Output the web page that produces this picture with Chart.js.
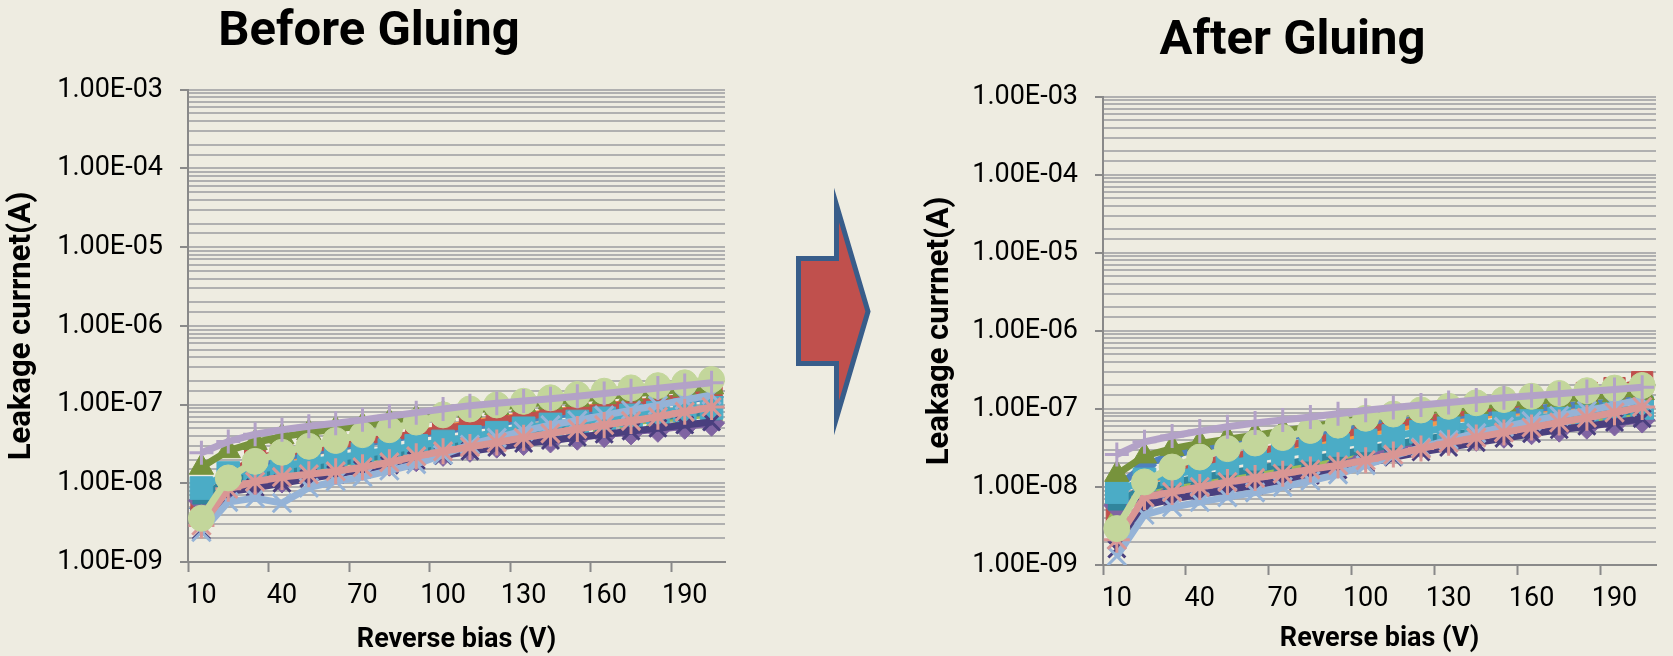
<!DOCTYPE html>
<html>
<head>
<meta charset="utf-8">
<script src="https://cdn.jsdelivr.net/npm/chart.js@4.4.1/dist/chart.umd.min.js"></script>
<style>
  html, body { margin:0; padding:0; background:#EEECE1; width:1673px; height:656px; overflow:hidden; }
  #wrapL { position:absolute; left:0; top:0; width:742px; height:656px; }
  #wrapR { position:absolute; left:918px; top:0; width:755px; height:656px; }
  #arrow { position:absolute; left:790px; top:185px; }
</style>
</head>
<body>
<div id="wrapL"><canvas id="before" width="742" height="656"></canvas></div>
<svg id="arrow" width="95" height="255" viewBox="0 0 95 255">
  <polygon points="8.5,73.5 46.5,73.5 46.5,20 78,126.5 46.5,233 46.5,178.5 8.5,178.5"
           fill="#C0504D" stroke="#385D8A" stroke-width="5" stroke-miterlimit="10" stroke-linejoin="miter"/>
</svg>
<div id="wrapR"><canvas id="after" width="755" height="656"></canvas></div>
<script>
// ---------- DATA ----------
const voltages = [10,20,30,40,50,60,70,80,90,100,110,120,130,140,150,160,170,180,190,200];
const xTickLabels = ['10','40','70','100','130','160','190'];
const yTickLabels = ['1.00E-09','1.00E-08','1.00E-07','1.00E-06','1.00E-05','1.00E-04','1.00E-03'];

// Before gluing
const before_blue = [4.8e-9,1.1e-8,1.7e-8,2.1e-8,2.45e-8,2.8e-8,3.2e-8,3.6e-8,4.1e-8,4.6e-8,5.2e-8,5.8e-8,6.5e-8,7.2e-8,7.9e-8,8.7e-8,9.5e-8,1.04e-7,1.14e-7,1.25e-7];
const before_red = [5.3e-9,1.3e-8,2.1e-8,2.4e-8,2.7e-8,3.0e-8,3.4e-8,3.8e-8,4.3e-8,4.9e-8,5.6e-8,6.3e-8,7.0e-8,7.8e-8,8.6e-8,9.4e-8,1.03e-7,1.13e-7,1.26e-7,1.45e-7];
const before_green = [4.9e-9,1.0e-8,1.2e-8,1.35e-8,1.55e-8,1.75e-8,2.0e-8,2.25e-8,2.55e-8,2.9e-8,3.3e-8,3.7e-8,4.1e-8,4.5e-8,5.0e-8,5.5e-8,6.0e-8,6.5e-8,7.0e-8,7.6e-8];
const before_purple = [6.0e-9,9.0e-9,1.0e-8,1.1e-8,1.25e-8,1.4e-8,1.6e-8,1.8e-8,2.05e-8,2.4e-8,2.7e-8,3.05e-8,3.3e-8,3.55e-8,3.85e-8,4.15e-8,4.5e-8,4.85e-8,5.3e-8,5.8e-8];
const before_aqua = [8.7e-9,1.35e-8,1.5e-8,1.65e-8,1.85e-8,2.1e-8,2.35e-8,2.65e-8,3.0e-8,3.4e-8,3.9e-8,4.4e-8,5.0e-8,5.6e-8,6.1e-8,6.7e-8,7.3e-8,7.9e-8,8.5e-8,9.1e-8];
const before_teal = [7.0e-9,1.05e-8,1.25e-8,1.4e-8,1.6e-8,1.8e-8,2.05e-8,2.3e-8,2.6e-8,3.0e-8,3.4e-8,3.85e-8,4.3e-8,4.8e-8,5.3e-8,5.8e-8,6.3e-8,6.9e-8,7.5e-8,8.2e-8];
const before_orange = [4.5e-9,1.1e-8,1.6e-8,2.0e-8,2.4e-8,2.8e-8,3.2e-8,3.7e-8,4.3e-8,5.0e-8,5.8e-8,6.5e-8,7.2e-8,8.0e-8,8.8e-8,9.6e-8,1.05e-7,1.13e-7,1.22e-7,1.32e-7];
const before_olive = [1.6e-8,2.6e-8,3.3e-8,3.9e-8,4.4e-8,4.9e-8,5.4e-8,6.0e-8,6.7e-8,7.6e-8,8.5e-8,9.2e-8,1.0e-7,1.08e-7,1.17e-7,1.26e-7,1.36e-7,1.46e-7,1.57e-7,1.68e-7];
const before_navy = [2.5e-9,7.8e-9,8.8e-9,1.0e-8,1.15e-8,1.3e-8,1.5e-8,1.7e-8,1.95e-8,2.25e-8,2.55e-8,2.85e-8,3.2e-8,3.5e-8,3.85e-8,4.2e-8,4.6e-8,5.0e-8,5.5e-8,6.0e-8];
const before_lightblue = [2.4e-9,5.8e-9,6.5e-9,5.6e-9,8.8e-9,1.06e-8,1.2e-8,1.45e-8,1.75e-8,2.3e-8,3.1e-8,3.8e-8,4.6e-8,5.5e-8,6.3e-8,7.3e-8,8.5e-8,9.8e-8,1.15e-7,1.33e-7];
const before_pink = [2.9e-9,8.5e-9,1.05e-8,1.2e-8,1.3e-8,1.42e-8,1.6e-8,1.85e-8,2.2e-8,2.55e-8,2.9e-8,3.3e-8,3.8e-8,4.3e-8,4.9e-8,5.5e-8,6.2e-8,7.0e-8,8.1e-8,9.3e-8];
const before_lightgreen = [3.6e-9,1.17e-8,1.9e-8,2.48e-8,2.95e-8,3.5e-8,4.15e-8,4.8e-8,6.0e-8,7.4e-8,8.8e-8,9.9e-8,1.1e-7,1.22e-7,1.34e-7,1.48e-7,1.63e-7,1.74e-7,1.89e-7,2.08e-7];
const before_lavender = [2.45e-8,3.4e-8,4.2e-8,4.8e-8,5.3e-8,5.8e-8,6.4e-8,7.1e-8,7.9e-8,8.8e-8,9.7e-8,1.04e-7,1.11e-7,1.19e-7,1.28e-7,1.38e-7,1.5e-7,1.62e-7,1.75e-7,1.89e-7];

// After gluing
const after_blue = [1.0e-8,1.9e-8,2.6e-8,3.0e-8,3.4e-8,3.8e-8,4.3e-8,4.8e-8,5.4e-8,6.1e-8,6.8e-8,7.4e-8,8.0e-8,8.7e-8,9.4e-8,1.0e-7,1.08e-7,1.16e-7,1.24e-7,1.33e-7];
const after_red = [4.8e-9,1.15e-8,1.6e-8,2.0e-8,2.4e-8,2.8e-8,3.3e-8,3.9e-8,4.6e-8,5.4e-8,6.3e-8,7.3e-8,8.4e-8,9.6e-8,1.09e-7,1.23e-7,1.39e-7,1.6e-7,1.85e-7,2.2e-7];
const after_green = [4.2e-9,8.5e-9,1.0e-8,1.15e-8,1.3e-8,1.48e-8,1.7e-8,1.95e-8,2.25e-8,2.6e-8,3.0e-8,3.4e-8,3.9e-8,4.4e-8,5.0e-8,5.6e-8,6.2e-8,6.9e-8,7.6e-8,8.4e-8];
const after_purple = [5.8e-9,7.5e-9,8.5e-9,9.5e-9,1.07e-8,1.2e-8,1.38e-8,1.6e-8,1.9e-8,2.4e-8,2.95e-8,3.4e-8,3.8e-8,4.2e-8,4.6e-8,5.1e-8,5.5e-8,6.0e-8,6.6e-8,7.2e-8];
const after_aqua = [8.6e-9,1.25e-8,1.45e-8,1.65e-8,2.0e-8,2.3e-8,2.65e-8,3.0e-8,3.45e-8,3.95e-8,4.5e-8,5.1e-8,5.7e-8,6.3e-8,6.9e-8,7.5e-8,8.1e-8,8.8e-8,9.5e-8,1.03e-7];
const after_teal = [6.5e-9,9.5e-9,1.15e-8,1.3e-8,1.5e-8,1.7e-8,1.95e-8,2.25e-8,2.6e-8,3.0e-8,3.5e-8,4.0e-8,4.6e-8,5.2e-8,5.8e-8,6.5e-8,7.2e-8,8.0e-8,8.8e-8,9.8e-8];
const after_orange = [3.5e-9,1.1e-8,1.55e-8,1.9e-8,2.25e-8,2.6e-8,3.0e-8,3.5e-8,4.1e-8,4.8e-8,5.6e-8,6.4e-8,7.2e-8,8.0e-8,8.8e-8,9.6e-8,1.05e-7,1.14e-7,1.24e-7,1.36e-7];
const after_olive = [1.45e-8,2.5e-8,3.1e-8,3.6e-8,4.1e-8,4.6e-8,5.2e-8,5.9e-8,6.7e-8,7.6e-8,8.5e-8,9.3e-8,1.0e-7,1.08e-7,1.16e-7,1.24e-7,1.33e-7,1.42e-7,1.52e-7,1.62e-7];
const after_navy = [1.6e-9,5.8e-9,7.0e-9,8.0e-9,9.2e-9,1.05e-8,1.2e-8,1.4e-8,1.65e-8,2.0e-8,2.4e-8,2.8e-8,3.2e-8,3.7e-8,4.2e-8,4.8e-8,5.4e-8,6.0e-8,6.7e-8,7.5e-8];
const after_lightblue = [1.3e-9,4.4e-9,5.5e-9,6.4e-9,7.4e-9,8.5e-9,1.0e-8,1.2e-8,1.45e-8,1.9e-8,2.5e-8,3.2e-8,4.0e-8,4.9e-8,5.9e-8,7.0e-8,8.2e-8,9.5e-8,1.12e-7,1.32e-7];
const after_pink = [2.1e-9,7.4e-9,8.6e-9,1.0e-8,1.16e-8,1.3e-8,1.48e-8,1.68e-8,1.9e-8,2.2e-8,2.6e-8,3.1e-8,3.7e-8,4.3e-8,5.0e-8,5.8e-8,6.7e-8,7.7e-8,9.0e-8,1.06e-7];
const after_lightgreen = [2.93e-9,1.16e-8,1.8e-8,2.42e-8,3.1e-8,3.66e-8,4.3e-8,5.3e-8,6.2e-8,7.6e-8,8.6e-8,9.7e-8,1.08e-7,1.2e-7,1.32e-7,1.45e-7,1.58e-7,1.71e-7,1.85e-7,2.0e-7];
const after_lavender = [2.6e-8,3.8e-8,4.5e-8,5.2e-8,5.9e-8,6.6e-8,7.2e-8,7.9e-8,8.7e-8,9.6e-8,1.04e-7,1.12e-7,1.21e-7,1.3e-7,1.39e-7,1.48e-7,1.57e-7,1.67e-7,1.78e-7,1.9e-7];

// ---------- STYLES (drawn bottom -> top) ----------
const seriesStyles = [
  { key:'orange',     color:'#F79646', point:'triangle', r:12 },
  { key:'blue',       color:'#4F81BD', point:'rectRot',  r:12 },
  { key:'red',        color:'#C0504D', point:'rect',     r:15 },
  { key:'green',      color:'#9BBB59', point:'triangle', r:13 },
  { key:'purple',     color:'#8064A2', point:'rectRot',  r:13 },
  { key:'teal',       color:'#31859C', point:'rect',     r:12 },
  { key:'aqua',       color:'#4BACC6', point:'rect',     r:16 },
  { key:'olive',      color:'#77933C', point:'triangle', r:14 },
  { key:'navy',       color:'#4A3F7E', point:'crossRot', r:12 },
  { key:'lightblue',  color:'#95B3D7', point:'crossRot', r:13 },
  { key:'pink',       color:'#D99694', point:'star',     r:13 },
  { key:'lightgreen', color:'#C3D69B', point:'circle',   r:13 },
  { key:'lavender',   color:'#B3A2C7', point:'cross',    r:12 }
];

const beforeSeries = { blue:before_blue, red:before_red, green:before_green, purple:before_purple, aqua:before_aqua,
  teal:before_teal, orange:before_orange, olive:before_olive, navy:before_navy, lightblue:before_lightblue,
  pink:before_pink, lightgreen:before_lightgreen, lavender:before_lavender };
const afterSeries = { blue:after_blue, red:after_red, green:after_green, purple:after_purple, aqua:after_aqua,
  teal:after_teal, orange:after_orange, olive:after_olive, navy:after_navy, lightblue:after_lightblue,
  pink:after_pink, lightgreen:after_lightgreen, lavender:after_lavender };

// ---------- CHART ----------
Chart.defaults.font.family = 'Roboto';
Chart.defaults.color = '#000';

const AXIS = '#898989';
const GRID = '#B0B0B0';
function isMajor(v) {
  const l = Math.log10(v);
  return Math.abs(l - Math.round(l)) < 1e-6;
}

function makeChart(id, title, series, lay) {
  const n = seriesStyles.length;
  const datasets = seriesStyles.map((st, idx) => {
    const lineOnly = st.point === 'cross' || st.point === 'crossRot' || st.point === 'star';
    return {
      label: st.key,
      data: series[st.key],
      borderColor: st.color,
      backgroundColor: st.color,
      borderWidth: 7,
      tension: 0,
      pointStyle: st.point,
      pointRadius: st.r,
      pointBackgroundColor: st.color,
      pointBorderColor: st.color,
      pointBorderWidth: lineOnly ? 3 : 1,
      order: n - idx
    };
  });

  return new Chart(document.getElementById(id), {
    type: 'line',
    data: { labels: voltages, datasets },
    options: {
      responsive: false,
      animation: false,
      events: [],
      layout: { padding: { left: 0, right: lay.padRight, top: 0, bottom: 0 } },
      plugins: {
        legend: { display: false },
        tooltip: { enabled: false },
        title: {
          display: true, text: title, color: '#000',
          font: { family: 'Roboto', size: 49, weight: 'bold' },
          padding: { top: lay.titleTop, bottom: lay.titleBottom }
        }
      },
      scales: {
        x: {
          type: 'category',
          offset: true,
          border: { display: true, color: AXIS, width: 2 },
          grid: {
            offset: true, drawOnChartArea: false, drawTicks: true,
            tickLength: 10, tickWidth: 2,
            tickColor: (c) => (c.index !== undefined && c.index % 3 === 0) ? AXIS : 'rgba(0,0,0,0)'
          },
          ticks: {
            autoSkip: false, maxRotation: 0, minRotation: 0, padding: lay.xTickPad,
            color: '#000', font: { family: 'Roboto', size: 27 },
            callback: (v, i) => (i % 3 === 0) ? xTickLabels[i / 3] : ''
          },
          title: {
            display: true, text: 'Reverse bias (V)', color: '#000',
            font: { family: 'Roboto', size: 27, weight: 'bold' },
            padding: { top: 0, bottom: lay.xTitleBottom }
          },
          afterFit: (s) => { s.height = lay.xHeight; }
        },
        y: {
          type: 'logarithmic',
          min: 1e-9, max: 1e-3,
          border: { display: true, color: AXIS, width: 2 },
          grid: {
            color: GRID, lineWidth: 2, drawTicks: true, tickLength: 8, tickWidth: 2,
            tickColor: (c) => (c.tick && isMajor(c.tick.value)) ? AXIS : 'rgba(0,0,0,0)'
          },
          ticks: {
            autoSkip: false, padding: 17, color: '#000',
            font: { family: 'Roboto', size: 27 },
            callback: (v) => isMajor(v) ? yTickLabels[Math.round(Math.log10(v)) + 9] : ''
          },
          title: {
            display: true, text: 'Leakage currnet(A)', color: '#000',
            font: { family: 'Roboto', size: 31, weight: 'bold' },
            padding: { top: lay.yTitleTop, bottom: 0 }
          },
          afterFit: (s) => { s.width = lay.yWidth; }
        }
      }
    }
  });
}

makeChart('before', 'Before Gluing', beforeSeries,
  { padRight: 4, titleTop: 3, titleBottom: 28, xHeight: 94, xTickPad: 8, xTitleBottom: 0, yTitleTop: 4, yWidth: 188 });
makeChart('after', 'After Gluing', afterSeries,
  { padRight: 6, titleTop: 12, titleBottom: 26, xHeight: 91, xTickPad: 8, xTitleBottom: 1, yTitleTop: 4, yWidth: 185 });
</script>
</body>
</html>
